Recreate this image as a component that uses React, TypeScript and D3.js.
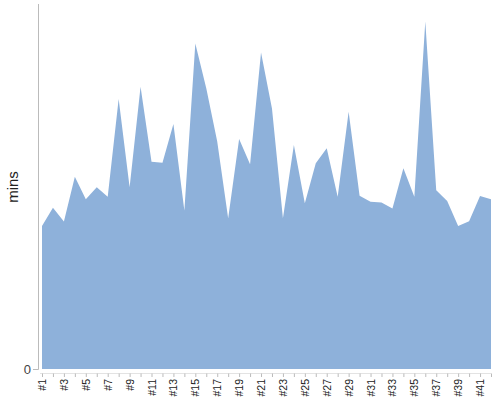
import React from "react";
import * as d3 from "d3";

const categories: string[] = Array.from({ length: 42 }, (_, i) => `#${i + 1}`);
const minutes: number[] = [
  39.2, 44.2, 40.4, 52.7, 46.5, 49.8, 47.2, 74.0, 49.8, 77.3,
  56.8, 56.5, 67.1, 43.4, 89.2, 76.9, 62.3, 41.3, 63.0, 56.1,
  86.7, 71.4, 41.3, 61.4, 45.4, 56.4, 60.5, 47.2, 70.5, 47.5,
  45.8, 45.6, 44.0, 55.0, 47.2, 95.2, 49.0, 46.0, 39.2, 40.5,
  47.4, 46.5,
];
const yMax = 100;
const yTicks: number[] = [0];
const yLabel = "mins";

export default function App() {
  const W = 500, H = 400;
  const x = d3.scalePoint<string>().domain(categories).range([42, 491]);
  const y = d3.scaleLinear().domain([0, yMax]).range([369, 4]);
  const data = categories.map((c, i) => ({ c, v: minutes[i] }));
  const area = d3
    .area<{ c: string; v: number }>()
    .x((d) => x(d.c) as number)
    .y0(y(0))
    .y1((d) => y(d.v));
  const font = "Liberation Sans, Arial, sans-serif";
  return (
    <svg
      width={W}
      height={H}
      style={{ position: "absolute", left: 0, top: 0, fontFamily: font }}
    >
      <path d={area(data) || ""} fill="#8eb1da" />
      {/* y axis */}
      <line x1={38.5} x2={38.5} y1={4} y2={369.5} stroke="#bbb" />
      {yTicks.map((t) => (
        <g key={t}>
          <line x1={33} x2={38.5} y1={y(t) + 0.5} y2={y(t) + 0.5} stroke="#bbb" />
          <text x={31} y={y(t)} dy="0.35em" textAnchor="end" fontSize={13} fill="#444">
            {t}
          </text>
        </g>
      ))}
      <text
        transform={`translate(18,187) rotate(-90)`}
        textAnchor="middle"
        fontSize={15}
        fill="#222"
      >
        {yLabel}
      </text>
      {/* x axis */}
      <line x1={40} x2={491} y1={373.5} y2={373.5} stroke="#e3e3e3" />
      {categories.map((c, i) => (
        <g key={c}>
          <line
            x1={(x(c) as number) + 0.5}
            x2={(x(c) as number) + 0.5}
            y1={373.5}
            y2={377}
            stroke="#bbb"
          />
          {i % 2 === 0 && (
            <text
              transform={`translate(${x(c)},379) rotate(-90)`}
              textAnchor="end"
              dominantBaseline="central"
              fontSize={10.5}
              fill="#222"
            >
              {c}
            </text>
          )}
        </g>
      ))}
    </svg>
  );
}
